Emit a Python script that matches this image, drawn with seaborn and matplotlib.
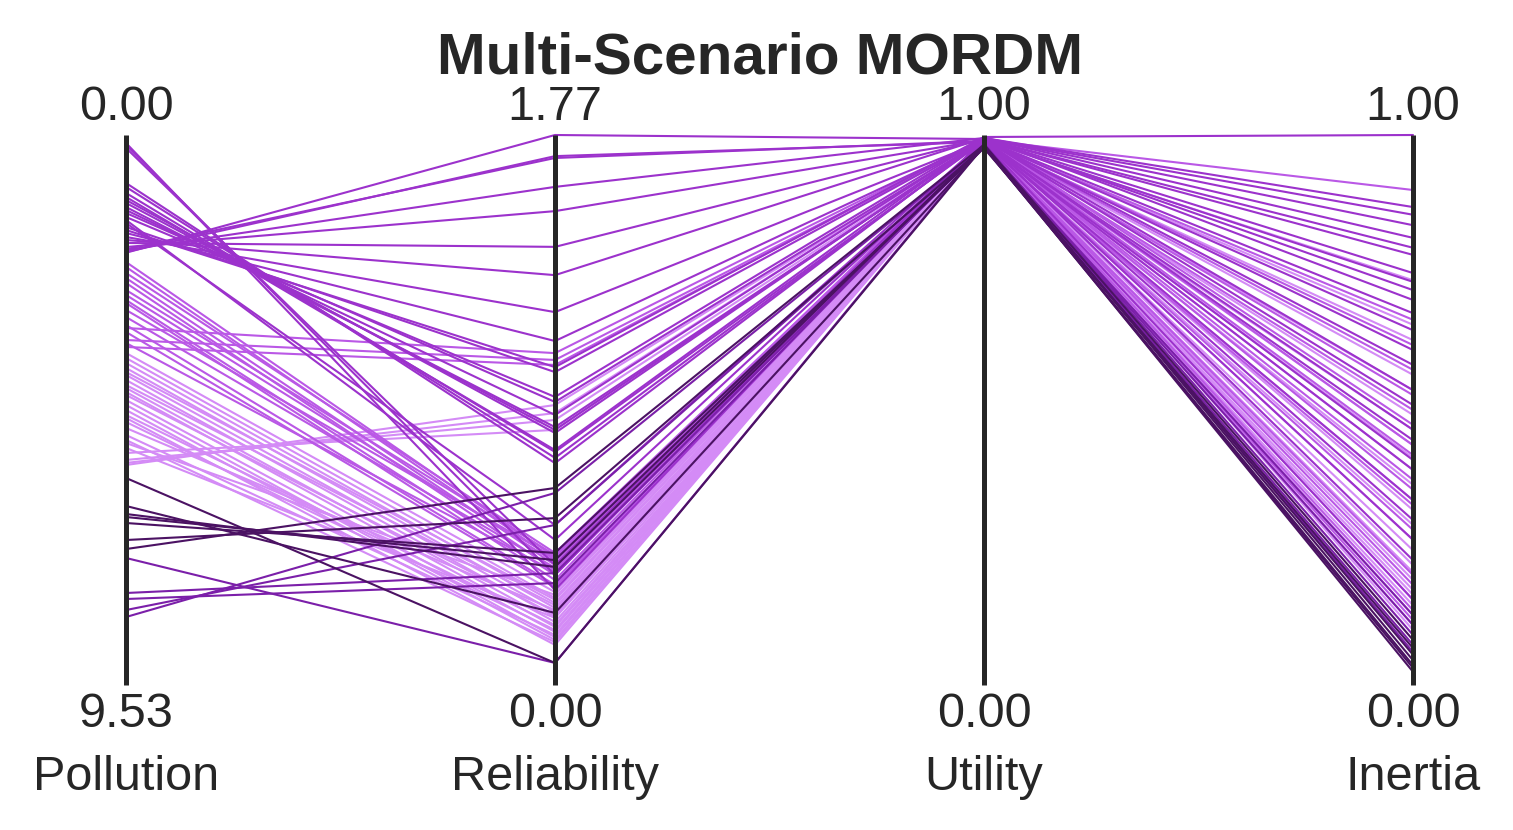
import numpy as np
import pandas as pd
import matplotlib
matplotlib.use("Agg")
import matplotlib.pyplot as plt
import seaborn as sns

# objective names and axis ranges (top/bottom labels)
objectives = ["Pollution", "Reliability", "Utility", "Inertia"]
top_labels = ["0.00", "1.77", "1.00", "1.00"]
bottom_labels = ["9.53", "0.00", "0.00", "0.00"]
obj_max = [9.53, 1.77, 1.00, 1.00]

# scenario groups
# scenario A
pollution_a = [0.139, 0.173, 0.225, 0.832, 0.901, 1.005, 1.074, 1.126, 1.178, 1.248, 1.300, 1.351, 1.421,
               1.473, 1.525, 1.594, 1.646, 1.698, 1.767, 1.819, 1.871, 1.941, 1.993, 1.980, 2.027, 2.040]
reliability_a = [0.306, 0.354, 0.386, 0.714, 0.731, 0.750, 0.756, 0.811, 0.821, 0.830, 0.869, 0.911, 0.927,
                 0.467, 0.515, 1.007, 1.023, 1.107, 1.200, 1.319, 1.410, 1.525, 1.603, 1.696, 1.702, 1.770]
utility_a = [0.9945, 0.9927, 0.9909, 0.9927, 0.9909, 0.9891, 0.9945, 0.9927, 0.9909, 0.9891, 0.9927, 0.9909, 0.9945,
             0.9873, 0.9891, 0.9927, 0.9964, 0.9909, 0.9891, 0.9945, 0.9927, 0.9909, 0.9945, 0.9891, 0.9873, 0.9927]
inertia_a = [0.700, 0.509, 0.300, 0.782, 0.645, 0.391, 0.836, 0.718, 0.445, 0.609, 0.536, 0.227, 0.813,
             0.155, 0.336, 0.795, 1.000, 0.676, 0.464, 0.855, 0.582, 0.733, 0.869, 0.409, 0.264, 0.749]

# scenario B
pollution_b = [2.201, 2.287, 2.391, 2.478, 2.564, 2.686, 2.772, 2.859, 2.911, 3.032, 3.154, 3.292, 3.344,
               3.413, 3.552, 3.604, 3.673]
reliability_b = [0.412, 0.402, 0.425, 0.386, 0.370, 0.418, 0.396, 0.354, 0.338, 0.409, 0.377, 0.322, 1.068,
                 0.315, 1.046, 0.364, 1.030]
utility_b = [0.991, 0.989, 0.987, 0.989, 0.991, 0.9855, 0.989, 0.987, 0.991, 0.987, 0.9855, 0.989, 0.993,
             0.987, 0.991, 0.9855, 0.993]
inertia_b = [0.900, 0.664, 0.500, 0.373, 0.418, 0.282, 0.527, 0.200, 0.573, 0.327, 0.118, 0.618, 0.436,
             0.182, 0.355, 0.136, 0.473]

# scenario C
pollution_c = [3.777, 3.864, 3.951, 4.037, 4.107, 4.158, 4.245, 4.332, 4.384, 4.453, 4.505, 4.592, 4.678,
               4.765, 4.852, 4.904, 4.973, 5.077, 5.198, 5.285, 5.337, 5.423, 5.510, 5.631, 5.683, 5.718]
reliability_c = [0.299, 0.280, 0.264, 0.248, 0.274, 0.235, 0.219, 0.257, 0.203, 0.187, 0.225, 0.171, 0.154,
                 0.145, 0.193, 0.129, 0.177, 0.241, 0.161, 0.138, 0.290, 0.216, 0.821, 0.853, 0.875, 0.901]
utility_c = [0.989, 0.987, 0.9855, 0.984, 0.989, 0.987, 0.9855, 0.984, 0.989, 0.987, 0.9855, 0.984, 0.989,
             0.987, 0.9855, 0.984, 0.989, 0.987, 0.9855, 0.984, 0.989, 0.987, 0.991, 0.989, 0.991, 0.989]
inertia_c = [0.736, 0.627, 0.536, 0.464, 0.391, 0.336, 0.291, 0.245, 0.218, 0.191, 0.164, 0.145, 0.127,
             0.109, 0.413, 0.364, 0.318, 0.264, 0.205, 0.173, 0.564, 0.491, 0.436, 0.155, 0.100, 0.655]

# scenario D (darkest)
pollution_d = [5.943, 6.428, 6.567, 6.619, 6.723, 7.018, 7.174]
reliability_d = [0.071, 0.232, 0.380, 0.402, 0.425, 0.537, 0.634]
utility_d = [0.980, 0.978, 0.982, 0.980, 0.976, 0.978, 0.982]
inertia_d = [0.024, 0.036, 0.045, 0.055, 0.067, 0.031, 0.082]

# scenario E
pollution_e = [7.329, 7.936, 8.040, 8.231, 8.352]
reliability_e = [0.071, 0.360, 0.328, 0.515, 0.618]
utility_e = [0.982, 0.980, 0.984, 0.982, 0.980]
inertia_e = [0.109, 0.073, 0.091, 0.060, 0.127]

# drawing order: lightest first, darkest last
scenarios = {
    "C": (pollution_c, reliability_c, utility_c, inertia_c),
    "B": (pollution_b, reliability_b, utility_b, inertia_b),
    "A": (pollution_a, reliability_a, utility_a, inertia_a),
    "E": (pollution_e, reliability_e, utility_e, inertia_e),
    "D": (pollution_d, reliability_d, utility_d, inertia_d),
}
palette = {"A": "#9c32cc", "B": "#ba58e6", "C": "#d48bf6", "D": "#4b1263", "E": "#7b1fa9"}


def build_long(scen):
    # normalise each objective to [0, 1]; pollution axis is flipped (low at top)
    rows = []
    uid = 0
    for name, cols in scen.items():
        for vals in zip(*cols):
            for j, v in enumerate(vals):
                if j == 0:
                    y = 1 - v / obj_max[j]
                else:
                    y = v / obj_max[j]
                rows.append({"id": uid, "scenario": name, "axis": j, "y": y})
            uid += 1
    return pd.DataFrame(rows)


df = build_long(scenarios)

sns.set_theme(style="white")
plt.rcParams["font.family"] = ["Liberation Sans", "DejaVu Sans"]

fig = plt.figure(figsize=(15.13, 8.3), dpi=100)
ax = fig.add_axes([126 / 1513, 1 - 685 / 830, (1413 - 126) / 1513, 550 / 830])

sns.lineplot(data=df, x="axis", y="y", hue="scenario", units="id", estimator=None,
             palette=palette, hue_order=list(scenarios.keys()), sort=False,
             linewidth=1.5, legend=False, ax=ax, clip_on=False)

ax.vlines(range(len(objectives)), 0, 1, colors="#262626", linewidth=3.6, zorder=5, clip_on=False)

ax.set_xlim(0, len(objectives) - 1)
ax.set_ylim(0, 1)
ax.axis("off")

for i, name in enumerate(objectives):
    ax.text(i, 1.027, top_labels[i], ha="center", va="baseline", fontsize=35, color="#262626")
    ax.text(i, -0.076, bottom_labels[i], ha="center", va="baseline", fontsize=35, color="#262626")
    ax.text(i, -0.191, name, ha="center", va="baseline", fontsize=35, color="#262626")

fig.text(0.502, 1 - 74 / 830, "Multi-Scenario MORDM", ha="center", va="baseline",
         fontsize=42, fontweight="bold", color="#262626")

fig.savefig("out.png", dpi=100)
